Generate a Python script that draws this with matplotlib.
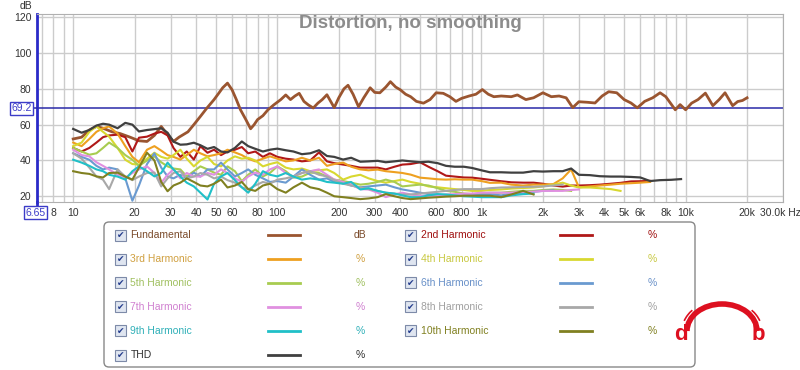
import numpy as np
import matplotlib
matplotlib.use("Agg")
import matplotlib.pyplot as plt
from matplotlib.patches import Rectangle, FancyBboxPatch, Arc
from matplotlib.ticker import FixedLocator, NullFormatter, LogLocator

plt.rcParams['font.family'] = ['Liberation Sans', 'DejaVu Sans']

nan = np.nan

# frequency grid shared by the harmonic curves (Hz)
freq = [10, 11, 12, 13, 14, 15, 16.5, 18, 19.5, 21,
        23, 25, 27, 29, 31, 33.5, 36, 39, 42, 45.5,
        49, 53, 57, 62, 67, 72, 78, 85, 92, 100,
        110, 120, 132, 145, 160, 175, 190, 210, 230, 255,
        280, 310, 340, 375, 410, 450, 500, 550, 610, 670,
        740, 820, 900, 1000, 1100, 1250, 1400, 1600, 1800, 2000,
        2250, 2500, 2750, 3000, 3400, 3800, 4300, 4800, 5400, 6000,
        6700, 7500, 8500, 9500]

fund_freq = [10, 11, 12, 13, 14, 15.5, 17, 19, 21, 23,
             25, 27, 29, 31, 33, 36.5, 39, 42, 45, 49,
             52, 54, 57, 60, 63, 66, 70, 74, 77, 80,
             85, 90, 96, 104, 110, 116, 122, 128, 135, 142,
             150, 158, 166, 175, 190, 200, 212, 222, 235, 250,
             265, 285, 300, 318, 340, 358, 380, 400, 425, 450,
             480, 520, 560, 600, 650, 700, 750, 800, 870, 940,
             1010, 1080, 1150, 1250, 1400, 1500, 1650, 1800, 2000, 2200,
             2400, 2600, 2800, 3000, 3300, 3600, 3900, 4200, 4600, 5000,
             5400, 5800, 6300, 6900, 7500, 8000, 8900, 9400, 10000, 10700,
             11500, 12500, 13600, 14600, 15600, 17000, 18000, 19000, 20000]
fund_db = [52, 53, 57, 59, 58, 56, 55, 53, 51, 50.6,
           54, 59, 54.4, 50.6, 53, 56, 60, 64.6, 69, 74,
           78, 80.6, 83.2, 79.5, 74, 68.3, 63, 57.7, 60, 62.8,
           65, 68.3, 71, 74, 76.6, 74, 76, 77.5, 73, 71,
           69.3, 72, 74, 76.7, 69.5, 75, 80, 82, 77, 70,
           75, 80.6, 78, 77.8, 81, 84, 81, 79.5, 77, 75.6,
           73, 72, 74, 77.8, 77.5, 75.6, 73, 74.7, 76, 77,
           79.6, 77, 75.6, 76, 75.6, 76.6, 74, 75, 77.8, 75.6,
           76, 75, 69.5, 72.8, 72.5, 72.1, 76, 78.4, 77.8, 74,
           72.1, 69.4, 73, 75, 77.8, 75.6, 68.3, 71.2, 68.3, 72,
           74, 77.6, 70.6, 74, 77.8, 70.6, 72.9, 73.5, 75]

thd = [57.6, 55.5, 57, 59.5, 60.5, 60, 58, 61, 60, 56.2,
       57, 57.5, 58, 55.5, 50.5, 48.8, 49, 49.9, 48.5, 46.5,
       47.5, 45, 44.5, 47, 50.6, 48, 46.5, 45, 46, 46.6,
       45.7, 45, 43.5, 44, 45.7, 42.5, 42, 40.5, 41.5, 39.3,
       39.5, 39.8, 39, 39.5, 40, 39.5, 39, 39.3, 38.5, 37,
       36.5, 36.5, 35.8, 34.5, 33.4, 33.4, 33.2, 33.2, 34, 33.8,
       34, 34, 35.5, 32, 31.8, 31.2, 31, 31, 30.8, 30.5,
       28.5, 29, 29.2, 29.6]
h2 = [47, 45, 47, 50, 53, 54, 54.4, 53, 45, 52.7,
      53.3, 55, 56, 54, 47, 42, 45, 40.5, 48, 44.3,
      46, 43, 45, 46, 47.5, 44, 45, 42, 44, 42,
      41, 40.5, 39.5, 40, 44.5, 39.5, 38.5, 37.7, 37, 36,
      36, 36, 35, 36.5, 37.7, 38, 39, 36.5, 34, 31.5,
      31, 30.5, 30.4, 29.8, 29.2, 28.4, 27.8, 27.6, 27.6, 27,
      26, 25.4, 26, 26, 26.2, 26.5, 27, 27.5, 28.3, 28.4,
      28.6, nan, nan, nan]
h3 = [50, 48, 52, 56, 58, 59, 55, 48, 42, 39,
      46, 48, 45.5, 43, 42, 40.5, 43, 46, 44, 42.3,
      43, 44, 46, 44.5, 43, 41, 39.5, 41, 42.3, 41,
      39.5, 40, 41.5, 40, 41.5, 37, 38, 38.8, 36.5, 35,
      34.5, 34.9, 34, 33.5, 33, 32.1, 30.4, 30, 29.5, 29.3,
      29.5, 29.3, 29.3, 28.5, 27.5, 27.6, 26.5, 26, 26.5, 26.5,
      26.8, 30, 35, 25, 25.5, 26, 26.5, 27, 27.3, 27.6,
      28, nan, nan, nan]
h4 = [48, 50, 56, 59, 56, 53.3, 47, 40.4, 38, 37.7,
      41, 44.3, 42, 41, 43, 46, 41, 36.7, 40, 42,
      38, 36.7, 40, 42.3, 41, 41.5, 40, 36.7, 38, 39,
      36, 35, 35.5, 34, 34.5, 35, 33, 29.3, 31, 32,
      30, 28.5, 27.6, 28.5, 29.3, 28, 27, 25.5, 25, 24.5,
      24, 23.5, 23, 23, 23.5, 23.8, 24.3, 24.6, 24.9, 25.5,
      26.5, 27.6, 26, 24.9, 24.9, 24.5, 24, 23, nan, nan,
      nan, nan, nan, nan]
h5 = [47, 45, 43.2, 44, 47, 50, 47, 43, 40.4, 37,
      40, 42.3, 39, 36.7, 35.5, 35, 31.1, 34, 36.7, 35,
      33.2, 32, 36.7, 34, 28.4, 32, 35, 31.1, 33, 36.7,
      34, 30.4, 31, 33.2, 33, 31, 29.3, 28.5, 27.6, 26.5,
      27, 28, 29.3, 28, 25.5, 26, 26.5, 26, 24.5, 23,
      22.5, 21.5, 21.2, 21.5, 22, 22, 22.5, 23, 23, 23.5,
      23.8, 23.5, 23, nan, nan, nan, nan, nan, nan, nan,
      nan, nan, nan, nan]
h6 = [44, 42, 40.4, 37, 35, 36, 35, 30, 17.5, 26,
      38, 44, 36, 31.1, 30, 32, 30, 33.2, 31, 35,
      35, 38.8, 35, 31.1, 33, 35, 32, 30, 28, 28.5,
      27.6, 31, 35, 32, 29.3, 30, 28, 27.6, 26, 25,
      25.5, 26, 26.5, 25, 23.8, 23, 22, 21.2, 21, 20.5,
      20.3, 20.5, 20.8, 21, 21.2, 20.5, 21.5, 22, 22.5, 23,
      23.3, nan, nan, nan, nan, nan, nan, nan, nan, nan,
      nan, nan, nan, nan]
h7 = [46, 43, 42.3, 39, 37, 35, 32, 30.4, 33, 35,
      36.7, 33, 27.6, 32, 35, 30, 33, 31.1, 31, 33,
      32, 35, 33, 30, 28, 31, 33.2, 32, 35, 36.7,
      33, 31, 33, 34, 35, 32, 29.3, 28, 26.5, 24,
      23.8, 22, 19.5, 21, 22, 21, 20.3, 20, 20.5, 21,
      21.2, 21.5, 21.5, 22, 22, 22, 22, 22.5, 22.5, 23,
      23, 23, 23.5, 23.8, nan, nan, nan, nan, nan, nan,
      nan, nan, nan, nan]
h8 = [44, 41, 36, 31, 29.3, 24, 35, 31, 29, 31,
      33, 33.2, 25.5, 30, 33, 34, 30, 31, 33, 32,
      30, 31, 29, 27.6, 25, 23.8, 26, 28, 27, 29.3,
      30, 31.1, 33, 34, 32, 31.1, 29, 27, 26, 24.9,
      24, 23, 22, 21.5, 21, 21, 21.5, 22, 22.5, 23,
      23.5, 24, 24, 24, 24.5, 24.9, 25, 25.2, 25.3, 25.5,
      26, 26.5, nan, nan, nan, nan, nan, nan, nan, nan,
      nan, nan, nan, nan]
h9 = [40.4, 38.8, 37, 35, 34, 32, 31, 29.3, 34, 36.7,
      34, 31.1, 33, 38.8, 35, 31, 27.6, 25.5, 22, 18.2,
      27, 31.1, 33, 29, 25, 22, 27, 34, 32, 31.1,
      33, 31, 29.3, 30, 29.3, 28, 27.6, 27, 28, 23.8,
      24.5, 23, 22, 21.5, 20.5, 19.5, 19.5, 20.5, 21.2, 21,
      20.5, 20, 19.8, 19.5, 19.5, 19.5, 20.5, 21.2, 21.5, nan,
      nan, nan, nan, nan, nan, nan, nan, nan, nan, nan,
      nan, nan, nan, nan]
h10 = [34, 33, 32.5, 31.1, 30.5, 33, 33.2, 31, 29.3, 36,
       44.3, 40, 28, 22.8, 26, 27.6, 30, 28, 26, 25.5,
       27, 29.3, 24.9, 26, 28, 24, 23, 26, 27, 24,
       22, 25, 27.6, 25, 24, 22, 20, 19.5, 19, 18.4,
       18.8, 19.5, 21.2, 20, 19, 18.4, 18.8, 19.2, 19.5, 19.8,
       20, 20.3, 20.3, 20.3, 20.3, 19.5, 21, 23, 21, nan,
       nan, nan, nan, nan, nan, nan, nan, nan, nan, nan,
       nan, nan, nan, nan]

names = ['Fundamental', '2nd Harmonic', '3rd Harmonic', '4th Harmonic',
         '5th Harmonic', '6th Harmonic', '7th Harmonic', '8th Harmonic',
         '9th Harmonic', '10th Harmonic', 'THD']
units = ['dB', '%', '%', '%', '%', '%', '%', '%', '%', '%', '%']
line_cols = ['#9a5530', '#b01818', '#eea020', '#d8d830', '#a8cc50', '#6a9ad0',
             '#e090e0', '#a8a8a8', '#20c0c8', '#808020', '#404040']
text_cols = ['#7a4a2a', '#a01010', '#d0a040', '#c8c840', '#a0c060', '#6890c8',
             '#d080d0', '#a0a0a0', '#30b0b8', '#808020', '#303030']

xticks = [8, 10, 20, 30, 40, 50, 60, 80, 100, 200, 300, 400, 600, 800,
          1000, 2000, 3000, 4000, 5000, 6000, 8000, 10000, 20000]
xlabels = ['8', '10', '20', '30', '40', '50', '60', '80', '100', '200', '300',
           '400', '600', '800', '1k', '2k', '3k', '4k', '5k', '6k', '8k', '10k', '20k']
yticks = [20, 40, 60, 80, 100, 120]

W, H = 800, 370
fig = plt.figure(figsize=(W / 100, H / 100), dpi=100)
fig.patch.set_facecolor('white')

L, R, T, B = 37, 783, 14, 202
ax = fig.add_axes([L / W, 1 - B / H, (R - L) / W, (B - T) / H])
ax.set_xscale('log')
ax.set_xlim(6.65, 30000)
ax.set_ylim(16.8, 121.8)

ax.xaxis.set_major_locator(FixedLocator(xticks))
ax.set_xticklabels(xlabels)
ax.xaxis.set_minor_locator(LogLocator(base=10, subs=np.arange(1, 10), numticks=20))
ax.xaxis.set_minor_formatter(NullFormatter())
ax.set_yticks(yticks)
ax.tick_params(which='both', length=0, labelsize=7.5, colors='#333333')
ax.tick_params(axis='x', pad=4)
ax.tick_params(axis='y', pad=4)
ax.grid(True, which='both', axis='x', color='#cccccc', lw=1)
ax.grid(True, which='major', axis='y', color='#cccccc', lw=1)
ax.set_axisbelow(True)
for s in ['top', 'right', 'bottom']:
    ax.spines[s].set_color('#b0b0b0')
ax.spines['left'].set_color('#2a2ac8')
ax.spines['left'].set_linewidth(2)

ax.axhline(69.2, color='#2a2aa8', lw=1.1, zorder=1)

harmonics = [h2, h3, h4, h5, h6, h7, h8, h9, h10]
ax.plot(fund_freq, fund_db, color=line_cols[0], lw=2, zorder=3)
for vals, c in zip(harmonics, line_cols[1:10]):
    ax.plot(freq, vals, color=c, lw=1.5, zorder=3)
ax.plot(freq, thd, color=line_cols[10], lw=1.6, zorder=4)

ax.text(0.5, 0.997, 'Distortion, no smoothing', transform=ax.transAxes,
        ha='center', va='top', fontsize=13.5, fontweight='bold', color='#8c8c8c')

# overlay in pixel coordinates for labels, legend and logo
ov = fig.add_axes([0, 0, 1, 1])
ov.set_xlim(0, W)
ov.set_ylim(H, 0)
ov.axis('off')
ov.patch.set_alpha(0)

ov.text(26, 6, 'dB', ha='center', va='center', fontsize=7.5, color='#333333')
ov.plot([33, L], [108.4, 108.4], color='#2a2aa8', lw=1.1)
ov.text(21.5, 108.4, '69.2', ha='center', va='center', fontsize=7.5, color='#3c3cc8',
        bbox=dict(boxstyle='square,pad=0.15', fc='white', ec='#3c3cc8', lw=1))
ov.plot([L, L], [B, 207], color='#2a2ac8', lw=2)
ov.text(35.5, 212.5, '6.65', ha='center', va='center', fontsize=7.5, color='#3c3cc8',
        bbox=dict(boxstyle='square,pad=0.15', fc='white', ec='#3c3cc8', lw=1))
ov.text(760, 212.5, '30.0k Hz', ha='left', va='center', fontsize=7.5, color='#333333')

# legend panel
ov.add_patch(FancyBboxPatch((104, 222), 591, 145, boxstyle='round,pad=0,rounding_size=5',
                            fc='white', ec='#888888', lw=1))
rows = [235, 259, 282.7, 306.7, 330.7, 355]
cols = [(115, 130.5, 268, 300, 360), (405, 421, 560, 592, 652)]
order = [(0, 0, 0), (1, 0, 1), (2, 1, 0), (3, 1, 1), (4, 2, 0), (5, 2, 1),
         (6, 3, 0), (7, 3, 1), (8, 4, 0), (9, 4, 1), (10, 5, 0)]
for i, r, c in order:
    cx, tx, lx0, lx1, ux = cols[c]
    y = rows[r]
    ov.add_patch(Rectangle((cx, y - 5.5), 11, 11, fc='#dfe5f0', ec='#7d8aa8', lw=0.8))
    ov.text(cx + 5.5, y + 0.5, '\u2714', ha='center', va='center', fontsize=6.5,
            color='#233c8c', family='DejaVu Sans')
    ov.text(tx, y, names[i], ha='left', va='center', fontsize=7.5, color=text_cols[i])
    ov.plot([lx0, lx1], [y, y], color=line_cols[i], lw=2)
    ov.text(ux, y, units[i], ha='center', va='center', fontsize=7.5, color=text_cols[i])

# headphone logo
red = '#dd1020'
ov.add_patch(Arc((722, 331), 70, 54, theta1=180, theta2=360, color=red, lw=4))
ov.add_patch(Arc((722, 331), 80, 62, theta1=195, theta2=215, color=red, lw=1.2))
ov.add_patch(Arc((722, 331), 80, 62, theta1=325, theta2=345, color=red, lw=1.2))
ov.text(681, 335, 'd', ha='center', va='center', fontsize=16, fontweight='bold', color=red)
ov.text(758, 335, 'b', ha='center', va='center', fontsize=16, fontweight='bold', color=red)

fig.savefig('out.png', dpi=100, facecolor='white')
